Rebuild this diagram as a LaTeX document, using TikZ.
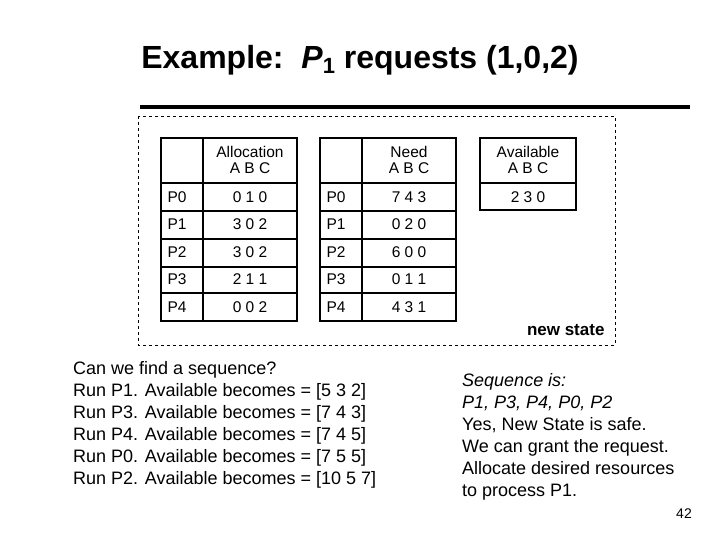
\documentclass[tikz,border=0pt]{standalone}
\usepackage{fontspec}
\setmainfont{Liberation Sans}
\begin{document}
\begin{tikzpicture}[x=1pt,y=-1pt,
  tl/.style={draw,line width=1.3pt},
  cell/.style={font=\fontsize{15.5}{16.5}\selectfont,anchor=center},
  txt/.style={anchor=base west,font=\fontsize{18}{20}\selectfont,inner sep=0pt}]
\useasboundingbox (0,0) rectangle (720,540);
\node[font=\fontsize{32}{35}\selectfont\bfseries] (title) at (360,60) {Example:\ \ \textit{P}\raisebox{-0.3ex}{\fontsize{22}{24}\selectfont 1} requests (1,0,2)};
\draw[line width=4pt] (140,107) coordinate (l1) -- (690,107) coordinate (l2);
\draw[dashed,line width=0.6pt] (138,116) rectangle (615,345);
% allocation
\draw[tl] (161,138) rectangle (297,321);
\draw[tl] (203,138) -- (203,321);
\foreach \y in {183,211,239,267,293} \draw[tl] (161,\y) -- (297,\y);
\node[cell,align=center] (ah) at (250,160) {Allocation\\A B C};
\draw[tl] (320,138) rectangle (456,321);
\draw[tl] (362,138) -- (362,321);
\foreach \y in {183,211,239,267,293} \draw[tl] (320,\y) -- (456,\y);
\node[cell,align=center] (nh) at (409,160) {Need\\A B C};
\draw[tl] (480,138) rectangle (576,210);
\draw[tl] (480,183) -- (576,183);
\node[cell,align=center] (avh) at (528,160) {Available\\A B C};
\node[cell] (av) at (528,197) {2 3 0};
\foreach \p/\a/\n [count=\i from 0] in {P0/0 1 0/7 4 3,P1/3 0 2/0 2 0,P2/3 0 2/6 0 0,P3/2 1 1/0 1 1,P4/0 0 2/4 3 1}{
  \pgfmathsetmacro\yy{197+27.5*\i}
  \node[cell,anchor=west] (pa\i) at (164,\yy) {\p};
  \node[cell] (a\i) at (250,\yy) {\a};
  \node[cell,anchor=west] (pn\i) at (323,\yy) {\p};
  \node[cell] (n\i) at (409,\yy) {\n};
}
\node[anchor=east,font=\fontsize{17}{18}\selectfont\bfseries] (ns) at (608,330) {new state};
\node[txt] (s1) at (73,374) {Can we find a sequence?};
\node[txt] (s2) at (73,396) {Run P1. Available becomes = [5 3 2]};
\node[txt] (s3) at (73,418) {Run P3. Available becomes = [7 4 3]};
\node[txt] (s4) at (73,440) {Run P4. Available becomes = [7 4 5]};
\node[txt] (s5) at (73,462) {Run P0. Available becomes = [7 5 5]};
\node[txt] (s6) at (73,484) {Run P2. Available becomes = [10 5 7]};
\node[txt] (r1) at (462,386) {\itshape Sequence is:};
\node[txt] (r2) at (462,408) {\itshape P1, P3, P4, P0, P2};
\node[txt] (r3) at (462,430) {Yes, New State is safe.};
\node[txt] (r4) at (462,452) {We can grant the request.};
\node[txt] (r5) at (462,474) {Allocate desired resources};
\node[txt] (r6) at (462,496) {to process P1.};
\node[font=\fontsize{14}{15}\selectfont] (pg) at (684,514) {42};
\end{tikzpicture}
\end{document}
